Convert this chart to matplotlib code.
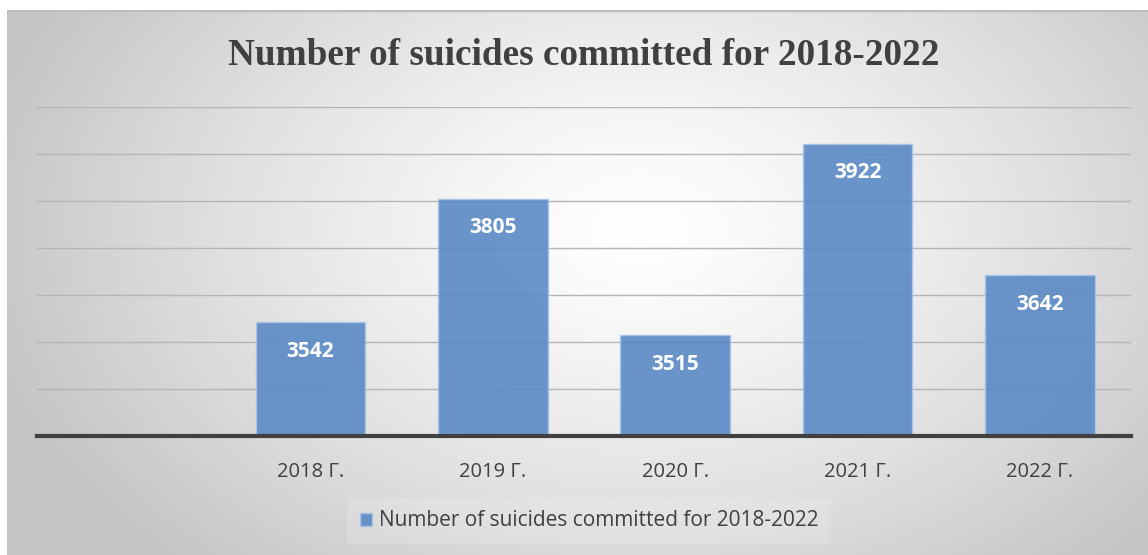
import numpy as np
import matplotlib
matplotlib.use("Agg")
import matplotlib.pyplot as plt

categories = ["", "2018 Г.", "2019 Г.", "2020 Г.", "2021 Г.", "2022 Г."]
values = [np.nan, 3542, 3805, 3515, 3922, 3642]
series_name = "Number of suicides committed for 2018-2022"
title = "Number of suicides committed for 2018-2022"
y_min, y_max, y_step = 3300, 4000, 100

W, H = 1148, 555
fig = plt.figure(figsize=(W / 100, H / 100), dpi=100)
fig.patch.set_facecolor("white")

# background gradient panel
bg = fig.add_axes([7 / W, 0, 1 - 7 / W, 1 - 10 / H])
bg.set_axis_off()
nx, ny = 600, 300
xx, yy = np.meshgrid(np.linspace(7, W, nx), np.linspace(10, H, ny))
cx, cy = 640, 230
d = np.sqrt(((xx - cx) / 680) ** 2 + ((yy - cy) / 460) ** 2)
d = np.clip(d, 0, 1)
val = 1.0 - 0.23 * d ** 1.3
img = np.dstack([val, val, val])
bg.imshow(img, extent=[0, 1, 0, 1], aspect="auto", origin="upper")
bg.set_xlim(0, 1)
bg.set_ylim(0, 1)
bg.axhline(1, color="#bdbdbd", lw=2.5)

ax = fig.add_axes([37 / W, 1 - 436 / H, (1131 - 37) / W, (436 - 107) / H])
ax.patch.set_alpha(0)
x = np.arange(len(categories))
bars = ax.bar(x, values, width=0.6, bottom=0, color="#5B8AC5", alpha=0.9,
              edgecolor="#A9C4E6", linewidth=1.0, zorder=2, label=series_name)
ax.set_xlim(-0.5, len(categories) - 0.5)
ax.set_ylim(y_min, y_max)
ax.set_yticks(np.arange(y_min, y_max + 1, y_step))
ax.yaxis.grid(True, color="#b5b5b5", lw=1.0, zorder=1)
ax.set_axisbelow(True)
ax.tick_params(axis="y", left=False, labelleft=False)
ax.tick_params(axis="x", bottom=False, pad=15)
for s in ["top", "right", "left"]:
    ax.spines[s].set_visible(False)
ax.spines["bottom"].set_color("#404040")
ax.spines["bottom"].set_linewidth(3)
ax.spines["bottom"].set_zorder(3)
ax.set_xticks(x)
ax.set_xticklabels(categories, fontsize=14.5, color="#404040",
                   family=["Open Sans", "DejaVu Sans"])

for xi, v in zip(x, values):
    if np.isnan(v):
        continue
    ax.annotate(f"{int(v)}", (xi, v), xytext=(0, -21), textcoords="offset points",
                ha="center", va="center", color="white", fontsize=15,
                fontweight="bold", family=["Open Sans", "DejaVu Sans"], zorder=4)

fig.text(584 / W, 1 - 65 / H, title, ha="center", va="baseline",
         fontsize=26.8, fontweight="bold", color="#404040",
         family=["Liberation Serif", "DejaVu Serif"])

leg = fig.legend(handles=[bars], labels=[series_name], loc="center",
                 bbox_to_anchor=(589 / W, 1 - 521 / H), frameon=True,
                 prop={"family": ["Open Sans", "DejaVu Sans"], "size": 15},
                 handlelength=0.6, handleheight=0.6, handletextpad=0.3,
                 borderpad=0.6)
leg.get_frame().set_facecolor("white")
leg.get_frame().set_alpha(0.15)
leg.get_frame().set_edgecolor("none")
leg.get_frame().set_boxstyle("square", pad=0)
for t in leg.get_texts():
    t.set_color("#404040")

fig.savefig("out.png", dpi=100)
